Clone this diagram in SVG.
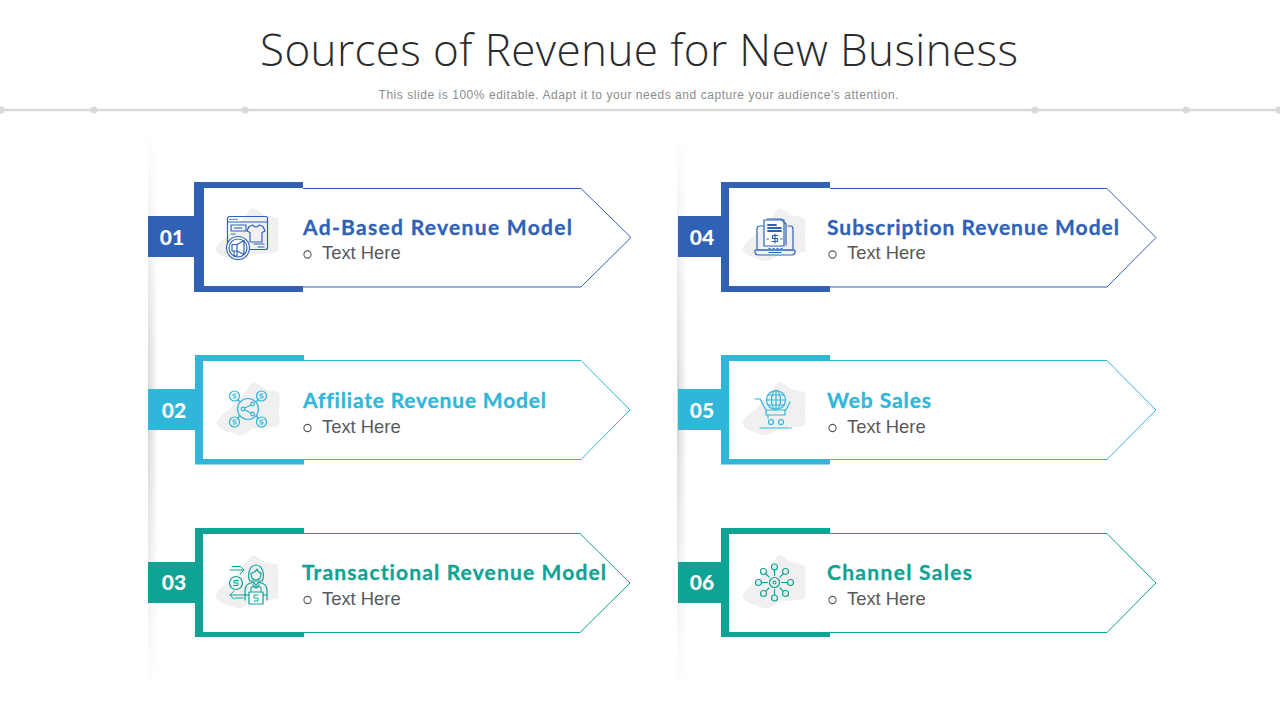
<svg xmlns="http://www.w3.org/2000/svg" xmlns:xlink="http://www.w3.org/1999/xlink" width="1280" height="720" viewBox="0 0 1280 720">
<style>
.title{font-family:"Open Sans","Liberation Sans",sans-serif;font-size:44px;font-weight:350;fill:#2b2b2b}
.sub{font-family:"Liberation Sans",Arial,sans-serif;font-size:12px;fill:#8c8c8c}
.head{font-family:"Lato","Liberation Sans",sans-serif;font-size:21px;font-weight:700;font-variant-ligatures:none;stroke-width:.3}
.body{font-family:"Liberation Sans",Arial,sans-serif;font-size:18.400px;fill:#595959}
.num{font-family:"Lato","Liberation Sans",sans-serif;font-size:21px;font-weight:900;fill:#fff;text-anchor:middle}
.arrow{fill:#fff;stroke-width:1}
.bullet{fill:none;stroke:#595959;stroke-width:1.100}
.blob{fill:#f0f0f1}
.ic{fill:none;stroke-width:1.200;stroke-linecap:round;stroke-linejoin:round}
.blue{stroke:#2f62b5}.sky{stroke:#2fb6d9}.teal{stroke:#0ea394}
.fblue{fill:#2f62b5;stroke:#2f62b5}.fsky{fill:#2fb6d9;stroke:#2fb6d9}.fteal{fill:#0ea394;stroke:#0ea394}
.hr{stroke:#d9d9d9;stroke-width:2.500}
.dot{fill:#d9d9d9}
</style>
<defs>
<linearGradient id="shade" x1="0" y1="0" x2="1" y2="0"><stop offset="0" stop-color="#d4d4d4"/><stop offset="1" stop-color="#fff"/></linearGradient>
<linearGradient id="vfade" x1="0" y1="0" x2="0" y2="1"><stop offset="0" stop-color="#000"/><stop offset="0.500" stop-color="#fff"/><stop offset="1" stop-color="#000"/></linearGradient>
<mask id="m1" maskUnits="userSpaceOnUse" x="140" y="130" width="30" height="560"><rect x="140" y="130" width="30" height="560" fill="url(#vfade)"/></mask>
<mask id="m2" maskUnits="userSpaceOnUse" x="670" y="130" width="30" height="560"><rect x="670" y="130" width="30" height="560" fill="url(#vfade)"/></mask>
<path id="blob" d="M-33 11C-31 7-24 2-17-4C-10-11-4-20 1-26C4-29 8-27 12-23C17-19 24-20 28-18C31-15 29-6 29 2C29 8 31 13 28 16C20 17 10 18 1 19C-3 24-9 26-13 25C-18 22-26 22-31 17C-33 15-34 13-33 11Z"/>
</defs>

<g id="header">
<text class="title" x="639" y="66" text-anchor="middle" textLength="758" lengthAdjust="spacing">Sources of Revenue for New Business</text>
<text class="sub" x="638.500" y="99" text-anchor="middle" textLength="520" lengthAdjust="spacing">This slide is 100% editable. Adapt it to your needs and capture your audience's attention.</text>
<line class="hr" x1="0" y1="110" x2="1280" y2="110"/>
<circle class="dot" cx="1" cy="110" r="3.500"/><circle class="dot" cx="94" cy="110" r="3.500"/><circle class="dot" cx="245" cy="110" r="3.500"/><circle class="dot" cx="1035" cy="110" r="3.500"/><circle class="dot" cx="1186" cy="110" r="3.500"/><circle class="dot" cx="1279" cy="110" r="3.500"/>
</g>

<g id="dividers">
<rect x="148" y="130" width="10" height="560" fill="url(#shade)" mask="url(#m1)"/>
<rect x="677" y="130" width="10" height="560" fill="url(#shade)" mask="url(#m2)"/>
</g>

<g id="connectors"></g>

<g id="node-01">
<rect x="148" y="216" width="46" height="41" fill="#2f62b5"/>
<path class="arrow blue" d="M303 188.500H581L631 237.500L581 287H303"/>
<path fill="#2f62b5" d="M194 182H303V188H204V286H303V292H194Z"/>
<text class="num" x="172" y="245">01</text>
<use href="#blob" class="blob" transform="translate(249 236)"/>
<g class="ic blue" transform="translate(227 216)">
<rect x="0.500" y="0.500" width="40" height="33" rx="2"/><path d="M0.500 6H40.500"/><path d="M3 3.300H4M6 3.300H7M9 3.300H10"/>
<rect x="4" y="9" width="15" height="6"/><path d="M7 12H15"/>
<path d="M26 9L22 10.500L20 15L23 16.500V26H35V16.500L38 15L36 10.500L32 9C31 11.500 27 11.500 26 9Z"/>
<path d="M4 18H8M27 28H37M31 31H37"/>
<circle cx="11" cy="32" r="11.500" fill="#fff"/><circle cx="11" cy="32" r="9"/>
<path d="M5 28.500H10L17 24.500V38.500L10 35H5ZM10 28.500V35M7 35V40H10V35.500"/>
</g>
<text class="head fblue" x="303" y="235" textLength="269" lengthAdjust="spacing">Ad-Based Revenue Model</text>
<circle class="bullet" cx="307.500" cy="254.500" r="3.600"/>
<text class="body" x="322" y="259">Text Here</text>
</g>

<g id="node-02">
<rect x="148" y="389" width="47" height="41" fill="#2fb6d9"/>
<path class="arrow sky" d="M304 360.500H581L630 410L581 459.500H304"/>
<path fill="#2fb6d9" d="M195 355H304V361H203V459H304V464.500H195Z"/>
<text class="num" x="174" y="418">02</text>
<use href="#blob" class="blob" transform="translate(250 410)"/>
<g class="ic sky" transform="translate(248 409)">
<circle r="10.500"/>
<circle cx="4.500" cy="-5" r="1.800"/><circle cx="-5" cy="0" r="1.800"/><circle cx="4.500" cy="5" r="1.800"/><path d="M3-4L-3.400-1M-3.400 1L3 4"/>
<path d="M-8-7L-10.500-9.500M8-7L10.500-9.500M-8 7L-10.500 9.500M8 7L10.500 9.500"/>
<circle cx="-13.500" cy="-13" r="5"/><circle cx="13.500" cy="-13" r="5"/><circle cx="-13.500" cy="13" r="5"/><circle cx="13.500" cy="13" r="5"/>
<path d="M-12-15H-15V-13H-12V-11H-15M15-15H12V-13H15V-11H12M-12 11H-15V13H-12V15H-15M15 11H12V13H15V15H12" stroke-width="1"/>
</g>
<text class="head fsky" x="303" y="408" textLength="243" lengthAdjust="spacing">Affiliate Revenue Model</text>
<circle class="bullet" cx="307.500" cy="428" r="3.600"/>
<text class="body" x="322" y="433">Text Here</text>
</g>

<g id="node-03">
<rect x="148" y="562" width="47" height="41" fill="#0ea394"/>
<path class="arrow teal" d="M304 533.500H580L630 583L580 632.500H304"/>
<path fill="#0ea394" d="M195 528H304V534H203V632H304V637H195Z"/>
<text class="num" x="174" y="590">03</text>
<use href="#blob" class="blob" transform="translate(249 583)"/>
<g class="ic teal" transform="translate(229 564)">
<path d="M1 6H15M11 2L15 6L11 10M3 2.500H11" stroke-width="1"/>
<circle cx="7" cy="19" r="6.500"/><path d="M9.500 16.500H5V19H9V21.500H4.500" stroke-width="1"/>
<path d="M17 31H1M5 27L1 31L5 35M6 34H14" stroke-width="1"/>
<path d="M21 17C18 12 20 1 27 1C34 1 36 12 33 17Z"/>
<path d="M22 9C25 9 27 7 28 5C29 8 31 9 32 9C32 14 30 16 27 16C24 16 22 14 22 9Z"/>
<path d="M16 36V26C16 21 20 19 24 18L27 21L30 18C34 19 38 21 38 26V36"/>
<path d="M24 21L27 24L30 21"/>
<rect x="20" y="28" width="14" height="12" fill="#fff"/>
<path d="M22 28V23H32V28M16 31H20M34 31H38M29 31H25V34H29V37H25" stroke-width="1"/>
</g>
<text class="head fteal" x="302" y="580" textLength="304" lengthAdjust="spacing">Transactional Revenue Model</text>
<circle class="bullet" cx="307.500" cy="600" r="3.600"/>
<text class="body" x="322" y="605">Text Here</text>
</g>

<g id="node-04">
<rect x="678" y="216" width="43" height="41" fill="#2f62b5"/>
<path class="arrow blue" d="M830 188.500H1107L1156 237.500L1107 287H830"/>
<path fill="#2f62b5" d="M721 182H830V188H729V286H830V292H721Z"/>
<text class="num" x="702" y="245">04</text>
<use href="#blob" class="blob" transform="translate(776 236)"/>
<g class="ic blue" transform="translate(755 218)">
<path d="M11 8H5C3 8 2 9 2 11V32H38V11C38 9 37 8 35 8H33"/>
<path d="M0 32H40V34C40 36 38 37 36 37H4C2 37 0 36 0 34Z"/>
<path d="M14 34.500H26" stroke-width="1"/>
<rect x="9" y="2" width="20" height="26" fill="#fff"/>
<path d="M12 1H26L31 6V27"/>
<path d="M13 7H21M13 10H26M13 13H26" stroke-width="1.800"/>
<path d="M23 17.500H17.500V20.500H22.500V23.500H17M20 16V25" stroke-width="1.200"/>
<path d="M12 21H13.500M25.500 21H27M14 30.500H15M18 30.500H19M22 30.500H23M26 30.500H27"/>
</g>
<text class="head fblue" x="827" y="235" textLength="292" lengthAdjust="spacing">Subscription Revenue Model</text>
<circle class="bullet" cx="832.500" cy="254.500" r="3.600"/>
<text class="body" x="847" y="259">Text Here</text>
</g>

<g id="node-05">
<rect x="678" y="389" width="43" height="41" fill="#2fb6d9"/>
<path class="arrow sky" d="M830 360.500H1107L1156 410L1107 459.500H830"/>
<path fill="#2fb6d9" d="M721 355H830V361H729V459H830V464.500H721Z"/>
<text class="num" x="702" y="418">05</text>
<use href="#blob" class="blob" transform="translate(776 410)"/>
<g class="ic sky" transform="translate(755 390)">
<circle cx="21" cy="10" r="9.500"/><ellipse cx="21" cy="10" rx="4.500" ry="9.500"/><path d="M11.500 10H30.500M13 5H29M13 15H29M21 .5V19.500"/>
<path d="M0 9H5L11 20H31L35 12"/>
<path d="M11 20V25H30V20M13 25V28"/>
<circle cx="16" cy="32" r="2.500"/><circle cx="26" cy="32" r="2.500"/>
<path d="M5 38H38" stroke-dasharray="29 1.500 1 1.500"/>
</g>
<text class="head fsky" x="827" y="408" textLength="104" lengthAdjust="spacing">Web Sales</text>
<circle class="bullet" cx="832.500" cy="428" r="3.600"/>
<text class="body" x="847" y="433">Text Here</text>
</g>

<g id="node-06">
<rect x="678" y="562" width="43" height="41" fill="#0ea394"/>
<path class="arrow teal" d="M830 533.500H1107L1156 583L1107 632.500H830"/>
<path fill="#0ea394" d="M721 528H830V534H729V632H830V637H721Z"/>
<text class="num" x="702" y="590">06</text>
<use href="#blob" class="blob" transform="translate(776 583)"/>
<g class="ic teal" transform="translate(774.500 582.500)">
<circle r="5"/><circle r="1.500"/>
<circle cx="0" cy="-15.500" r="3"/><circle cx="0" cy="15.500" r="3"/><circle cx="-16" cy="0" r="3"/><circle cx="16" cy="0" r="3"/>
<circle cx="-11" cy="-11" r="3"/><circle cx="11" cy="-11" r="3"/><circle cx="-11" cy="11" r="3"/><circle cx="11" cy="11" r="3"/>
<path d="M0-12.500V-7M0 7V12.500M-13 0H-7M7 0H13M-8.800-8.800L-5.500-5.500M8.800-8.800L5.500-5.500M-8.800 8.800L-5.500 5.500M8.800 8.800L5.500 5.500"/>
</g>
<text class="head fteal" x="827" y="580" textLength="145" lengthAdjust="spacing">Channel Sales</text>
<circle class="bullet" cx="832.500" cy="600" r="3.600"/>
<text class="body" x="847" y="605">Text Here</text>
</g>
</svg>
